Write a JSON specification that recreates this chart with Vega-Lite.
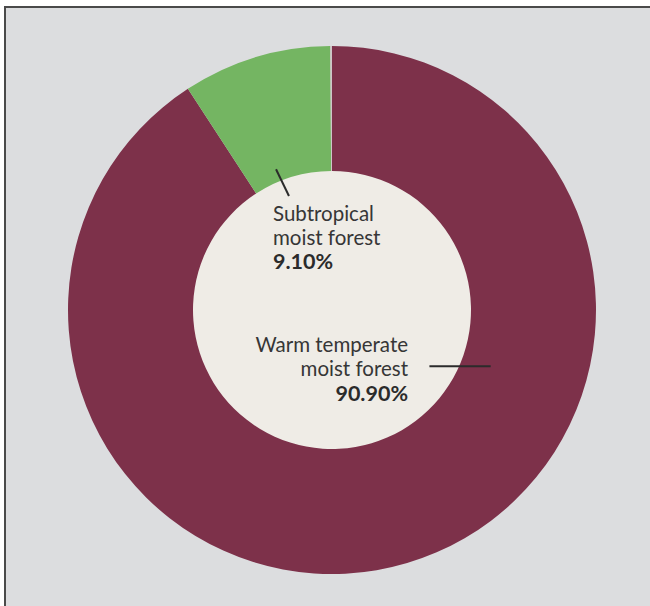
{
  "$schema": "https://vega.github.io/schema/vega-lite/v6.json",
  "width": 654,
  "height": 606,
  "autosize": {"type": "none"},
  "padding": {"left": 5, "top": 7, "right": 0, "bottom": 0},
  "background": "#ffffff",
  "config": {
    "view": {"fill": "#dcdddf", "stroke": "#4a4a4a", "strokeWidth": 2},
    "text": {"font": "Lato"}
  },
  "data": {
    "values": [
      {"category": "Warm temperate moist forest", "label": "Warm temperate\nmoist forest", "share": 0.909, "order": 1},
      {"category": "Subtropical moist forest", "label": "Subtropical\nmoist forest", "share": 0.091, "order": 2},
      {"category": "Other", "label": "", "share": 0.001, "order": 3}
    ]
  },
  "layer": [
    {
      "transform": [{"filter": "datum.order == 1"}],
      "mark": {"type": "arc", "theta": 0, "theta2": 6.2832, "radius": 140, "fill": "#efece6"},
      "encoding": {}
    },
    {
      "mark": {"type": "arc", "radius": 264, "radius2": 139},
      "encoding": {
        "theta": {"field": "share", "type": "quantitative", "stack": true},
        "order": {"field": "order", "type": "quantitative"},
        "color": {
          "field": "category",
          "type": "nominal",
          "scale": {
            "domain": ["Warm temperate moist forest", "Subtropical moist forest", "Other"],
            "range": ["#7d314a", "#74b562", "#cfc5c8"]
          },
          "legend": null
        }
      }
    },
    {
      "transform": [{"filter": "datum.order == 2"}],
      "mark": {"type": "text", "align": "left", "baseline": "alphabetic", "lineBreak": "\n", "lineHeight": 24, "fontSize": 20.5, "fontWeight": 400, "color": "#363636"},
      "encoding": {
        "text": {"field": "label"},
        "x": {"datum": -22.35, "type": "quantitative", "scale": {"domain": [-123.86, 123.86], "nice": false, "zero": false}, "axis": null},
        "y": {"datum": 33.7, "type": "quantitative", "scale": {"domain": [-114.77, 114.77], "nice": false, "zero": false}, "axis": null}
      }
    },
    {
      "transform": [{"filter": "datum.order == 2"}],
      "mark": {"type": "text", "align": "left", "baseline": "alphabetic", "fontSize": 21.5, "fontWeight": "bold", "color": "#2b2b2b"},
      "encoding": {
        "text": {"field": "share", "type": "quantitative", "format": ".2%"},
        "x": {"datum": -22.35, "type": "quantitative"},
        "y": {"datum": 15.5, "type": "quantitative"}
      }
    },
    {
      "transform": [{"filter": "datum.order == 1"}],
      "mark": {"type": "text", "align": "right", "baseline": "alphabetic", "lineBreak": "\n", "lineHeight": 24, "fontSize": 20.5, "fontWeight": 400, "color": "#363636"},
      "encoding": {
        "text": {"field": "label"},
        "x": {"datum": 28.8, "type": "quantitative"},
        "y": {"datum": -15.9, "type": "quantitative"}
      }
    },
    {
      "transform": [{"filter": "datum.order == 1"}],
      "mark": {"type": "text", "align": "right", "baseline": "alphabetic", "fontSize": 21.5, "fontWeight": "bold", "color": "#2b2b2b"},
      "encoding": {
        "text": {"field": "share", "type": "quantitative", "format": ".2%"},
        "x": {"datum": 28.8, "type": "quantitative"},
        "y": {"datum": -34.5, "type": "quantitative"}
      }
    },
    {
      "transform": [{"filter": "datum.order == 2"}],
      "mark": {"type": "rule", "strokeWidth": 2, "color": "#2b2b2b"},
      "encoding": {
        "x": {"datum": -21.2, "type": "quantitative"},
        "x2": {"datum": -16.3},
        "y": {"datum": 53.3, "type": "quantitative"},
        "y2": {"datum": 43.2}
      }
    },
    {
      "transform": [{"filter": "datum.order == 1"}],
      "mark": {"type": "rule", "strokeWidth": 2, "color": "#2b2b2b"},
      "encoding": {
        "x": {"datum": 36.9, "type": "quantitative"},
        "x2": {"datum": 60.1},
        "y": {"datum": -21.3, "type": "quantitative"}
      }
    }
  ]
}
